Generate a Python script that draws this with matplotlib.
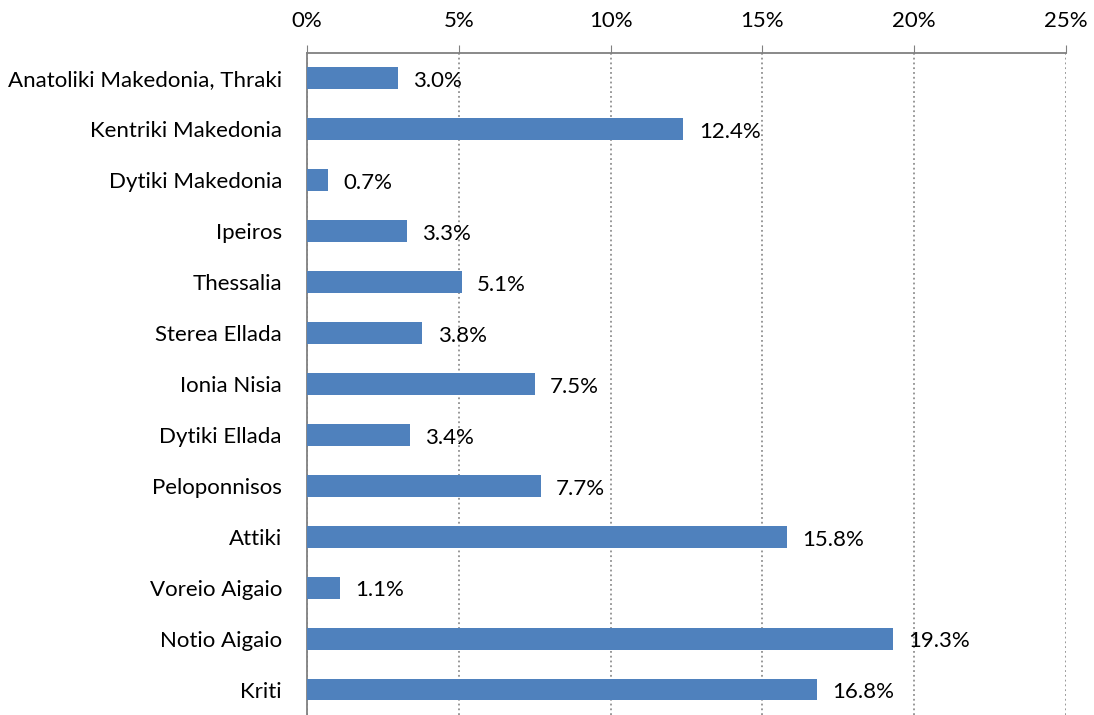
import matplotlib.pyplot as plt
from matplotlib.ticker import FuncFormatter

regions = ['Anatoliki Makedonia, Thraki', 'Kentriki Makedonia', 'Dytiki Makedonia',
           'Ipeiros', 'Thessalia', 'Sterea Ellada', 'Ionia Nisia', 'Dytiki Ellada',
           'Peloponnisos', 'Attiki', 'Voreio Aigaio', 'Notio Aigaio', 'Kriti']
shares = [3.0, 12.4, 0.7, 3.3, 5.1, 3.8, 7.5, 3.4, 7.7, 15.8, 1.1, 19.3, 16.8]

plt.rcParams['font.family'] = ['Lato', 'DejaVu Sans']

fig = plt.figure(figsize=(10.94, 7.15), dpi=100)
ax = fig.add_axes([0.2806, 0.0, 0.6938, 0.9259])

pos = list(range(len(regions)))
ax.barh(pos, shares, height=0.43, color='#4F81BD', zorder=3)
for y, v in zip(pos, shares):
    ax.annotate(f'{v:.1f}%', (v, y), xytext=(11, -2), textcoords='offset points',
                va='center', ha='left', fontsize=16, color='black', zorder=4)

ax.set_xlim(0, 25)
ax.set_ylim(len(regions) - 0.5, -0.5)
ax.set_xticks([0, 5, 10, 15, 20, 25])
ax.xaxis.set_major_formatter(FuncFormatter(lambda x, p: f'{x:.0f}%'))
ax.xaxis.tick_top()
ax.tick_params(axis='x', direction='out', length=6, color='#808080', labelsize=16, pad=10)
ax.set_yticks(pos)
ax.set_yticklabels(regions, fontsize=16)
ax.tick_params(axis='y', length=0, pad=18)

ax.grid(axis='x', linestyle=':', color='#909090', linewidth=1.3, zorder=0)
for s in ['right', 'bottom']:
    ax.spines[s].set_visible(False)
for s in ['top', 'left']:
    ax.spines[s].set_color('#808080')
    ax.spines[s].set_linewidth(1.3)

fig.savefig('out.png', dpi=100)
